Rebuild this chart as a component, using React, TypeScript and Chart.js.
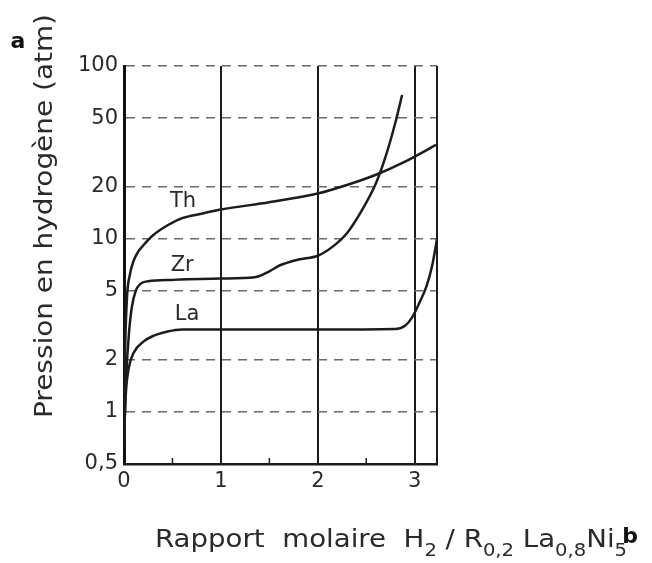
import React, { useEffect, useRef } from "react";
import { Chart, registerables } from "chart.js";

Chart.register(...registerables);

// ---- Data ----
const thX = [0, 0.01, 0.03, 0.06, 0.1, 0.15, 0.2, 0.3, 0.45, 0.6, 0.8, 1.0, 1.5, 2.0, 2.3, 2.6, 2.9, 3.22];
const thY = [0.6, 2, 4.5, 6.2, 7.5, 8.5, 9.2, 10.5, 12, 13.2, 14, 14.8, 16.3, 18.3, 20.5, 23.5, 28, 35];

const zrX = [0, 0.02, 0.05, 0.08, 0.12, 0.17, 0.25, 0.5, 1.0, 1.35, 1.5, 1.6, 1.8, 2.0, 2.15, 2.3, 2.45, 2.6, 2.7, 2.8, 2.87];
const zrY = [0.7, 1.5, 2.8, 4.0, 5.0, 5.5, 5.7, 5.8, 5.9, 6.0, 6.5, 7.0, 7.6, 8.0, 9.0, 10.8, 14.5, 21, 30, 47, 68];

const laX = [0, 0.02, 0.05, 0.1, 0.2, 0.3, 0.45, 0.6, 1.0, 2.0, 2.8, 2.9, 2.97, 3.05, 3.12, 3.18, 3.23];
const laY = [0.7, 1.3, 1.8, 2.2, 2.55, 2.75, 2.92, 3.0, 3.0, 3.0, 3.02, 3.15, 3.5, 4.3, 5.3, 7.0, 10];

const xTicks = [0, 1, 2, 3];
const xTickLabels = ["0", "1", "2", "3"];
const minorXTicks = [0.5, 1.5, 2.5];
const yTicks = [0.5, 1, 2, 5, 10, 20, 50, 100];
const yTickLabels = ["0,5", "1", "2", "5", "10", "20", "50", "100"];

const curveLabels = ["Th", "Zr", "La"];
const curveLabelX = [0.61, 0.6, 0.65];
const curveLabelY = [16.5, 7.0, 3.65];

const yTitle = "Pression en hydrogène (atm)";
const xTitleTexts = ["Rapport  molaire  H", "2", " / R", "0,2", " La", "0,8", "Ni", "5"];
const xTitleSub = [false, true, false, true, false, true, false, true];
const panelLabelA = "a";
const panelLabelB = "b";

const FONT = "'DejaVu Sans', 'Liberation Sans', sans-serif";
const INK = "#1c1c1c";
const TEXT = "#2a2a2a";

const decorPlugin = {
  id: "decor",
  afterDraw(chart: any) {
    const ctx = chart.ctx as CanvasRenderingContext2D;
    const xs = chart.scales.x;
    const ys = chart.scales.y;
    const area = chart.chartArea;
    ctx.save();

    // right frame line
    ctx.strokeStyle = INK;
    ctx.lineWidth = 2;
    ctx.beginPath();
    ctx.moveTo(area.right, area.top);
    ctx.lineTo(area.right, area.bottom + 1);
    ctx.stroke();

    // minor ticks on bottom axis
    ctx.lineWidth = 1.5;
    minorXTicks.forEach((v) => {
      const px = xs.getPixelForValue(v);
      ctx.beginPath();
      ctx.moveTo(px, area.bottom);
      ctx.lineTo(px, area.bottom - 6);
      ctx.stroke();
    });

    // curve labels
    ctx.fillStyle = TEXT;
    ctx.font = `21px ${FONT}`;
    ctx.textAlign = "center";
    ctx.textBaseline = "middle";
    curveLabels.forEach((t, i) => {
      ctx.fillText(t, xs.getPixelForValue(curveLabelX[i]), ys.getPixelForValue(curveLabelY[i]));
    });

    // y title (rotated)
    ctx.save();
    ctx.font = `24px ${FONT}`;
    const yw = ctx.measureText(yTitle).width;
    const yLen = 404;
    ctx.translate(52, 216);
    ctx.rotate(-Math.PI / 2);
    ctx.scale(yLen / yw, 1);
    ctx.textAlign = "center";
    ctx.textBaseline = "alphabetic";
    ctx.fillText(yTitle, 0, 0);
    ctx.restore();

    // x title with subscripts
    const mainFont = `24px ${FONT}`;
    const subFont = `17px ${FONT}`;
    let total = 0;
    const widths: number[] = [];
    xTitleTexts.forEach((t, i) => {
      ctx.font = xTitleSub[i] ? subFont : mainFont;
      const w = ctx.measureText(t).width;
      widths.push(w);
      total += w;
    });
    const x0 = 155;
    const x1 = 627;
    const sx = (x1 - x0) / total;
    ctx.save();
    ctx.translate(x0, 547);
    ctx.scale(sx, 1);
    ctx.textAlign = "left";
    ctx.textBaseline = "alphabetic";
    let cx = 0;
    xTitleTexts.forEach((t, i) => {
      ctx.font = xTitleSub[i] ? subFont : mainFont;
      ctx.fillText(t, cx, xTitleSub[i] ? 9 : 0);
      cx += widths[i];
    });
    ctx.restore();

    // panel letters
    ctx.fillStyle = "#111";
    ctx.font = `bold 22px ${FONT}`;
    ctx.textAlign = "center";
    ctx.textBaseline = "alphabetic";
    ctx.fillText(panelLabelA, 18, 48);
    ctx.fillText(panelLabelB, 630, 543);

    ctx.restore();
  },
};

export default function App() {
  const ref = useRef<HTMLCanvasElement | null>(null);

  useEffect(() => {
    if (!ref.current) return;
    const mk = (xa: number[], ya: number[]) => xa.map((x, i) => ({ x, y: ya[i] }));
    const ds = (label: string, xa: number[], ya: number[]) => ({
      label,
      data: mk(xa, ya),
      borderColor: INK,
      borderWidth: 2.5,
      pointRadius: 0,
      fill: false,
      cubicInterpolationMode: "monotone" as const,
    });
    const chart = new Chart(ref.current, {
      type: "line",
      data: {
        datasets: [ds("Th", thX, thY), ds("Zr", zrX, zrY), ds("La", laX, laY)],
      },
      options: {
        animation: false,
        responsive: false,
        layout: { padding: { left: 0, top: 66, right: 215, bottom: 0 } },
        plugins: { legend: { display: false }, tooltip: { enabled: false } },
        scales: {
          x: {
            type: "linear",
            min: 0,
            max: 3.23,
            afterBuildTicks: (s: any) => {
              s.ticks = xTicks.map((v) => ({ value: v }));
            },
            afterFit: (s: any) => {
              s.height = 99;
            },
            ticks: {
              autoSkip: false,
              maxRotation: 0,
              padding: 5,
              color: TEXT,
              font: { family: FONT, size: 21 },
              callback: (_v: any, i: number) => xTickLabels[i],
            },
            grid: {
              color: (c: any) => (c.tick && c.tick.value === 0 ? "rgba(0,0,0,0)" : INK),
              lineWidth: 2,
              drawTicks: false,
            },
            border: { display: true, color: INK, width: 2.5 },
          },
          y: {
            type: "logarithmic",
            min: 0.5,
            max: 100,
            afterBuildTicks: (s: any) => {
              s.ticks = yTicks.map((v) => ({ value: v }));
            },
            afterFit: (s: any) => {
              s.width = 124;
            },
            ticks: {
              autoSkip: false,
              padding: 6,
              color: TEXT,
              font: { family: FONT, size: 21 },
              callback: (_v: any, i: number) => yTickLabels[i],
            },
            grid: {
              color: (c: any) => (c.tick && c.tick.value === 0.5 ? "rgba(0,0,0,0)" : "#6a6a6a"),
              lineWidth: 1.5,
              drawTicks: false,
            },
            border: { display: true, color: "#111", width: 3, dash: [9, 7] },
          },
        },
      },
      plugins: [decorPlugin],
    });
    return () => chart.destroy();
  }, []);

  return (
    <div style={{ position: "absolute", left: 0, top: 0, width: 652, height: 563, background: "#fff" }}>
      <canvas ref={ref} width={652} height={563} style={{ display: "block" }} />
    </div>
  );
}
